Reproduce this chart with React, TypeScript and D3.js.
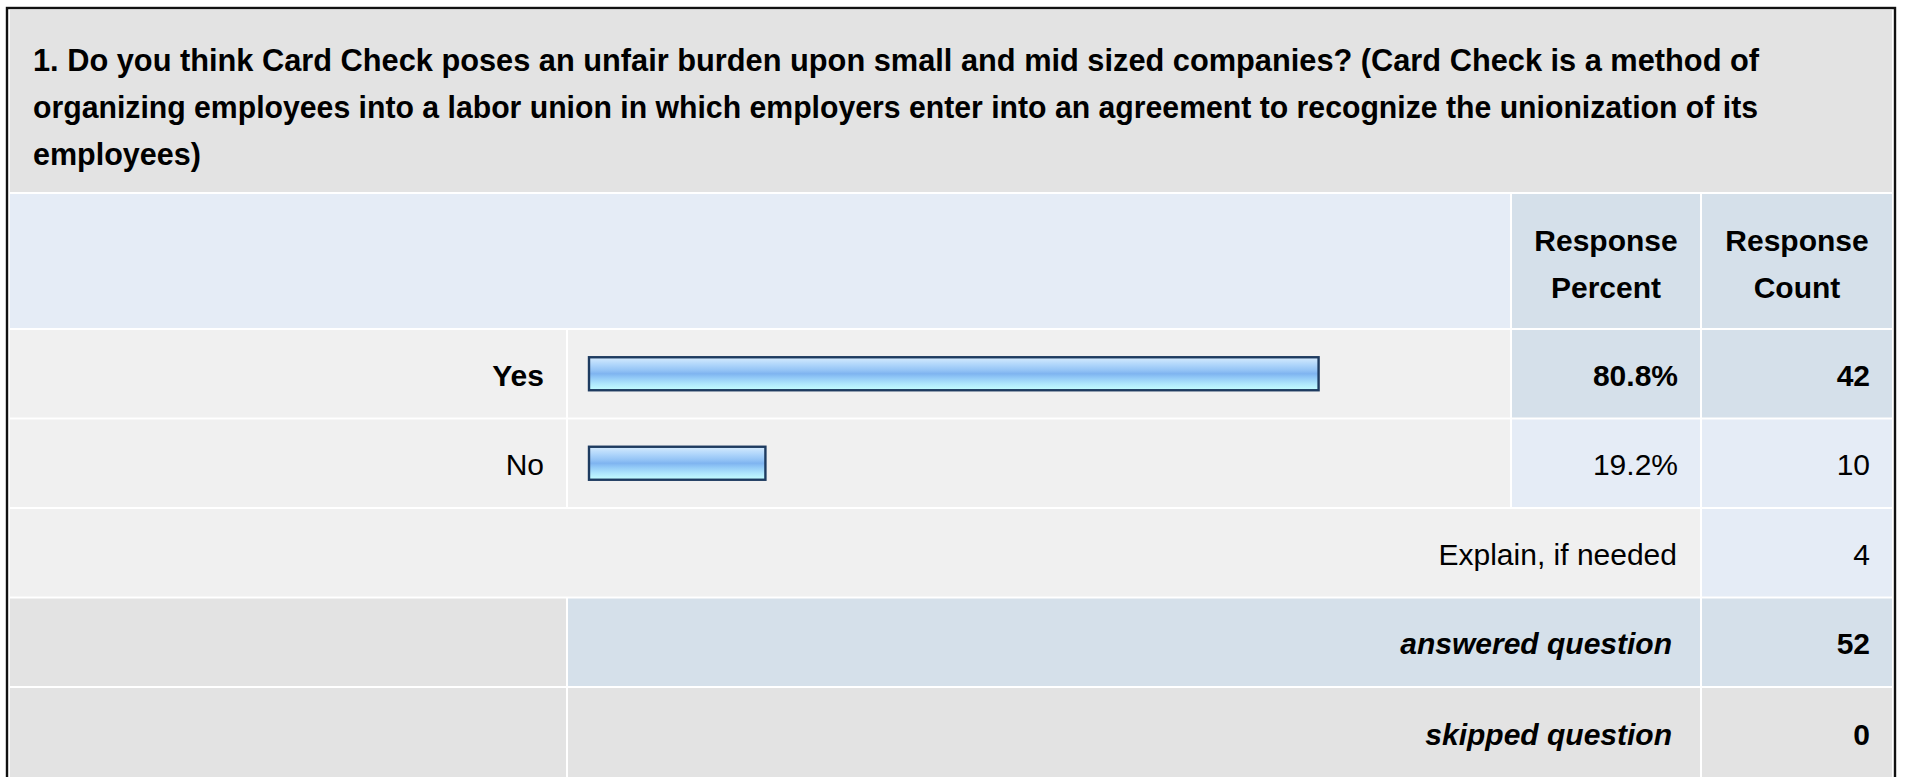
import React from "react";
import * as d3 from "d3";

const titleLines = [
  "1. Do you think Card Check poses an unfair burden upon small and mid sized companies? (Card Check is a method of",
  "organizing employees into a labor union in which employers enter into an agreement to recognize the unionization of its",
  "employees)",
];
const headerPercent = ["Response", "Percent"];
const headerCount = ["Response", "Count"];
const categories = ["Yes", "No"];
const percents = [80.8, 19.2];
const counts = [42, 10];
const boldRow = [true, false];
const explainLabel = "Explain, if needed";
const explainCount = 4;
const answeredLabel = "answered question";
const answeredCount = 52;
const skippedLabel = "skipped question";
const skippedCount = 0;

const W = 1909;
const H = 777;
const FONT = "'Liberation Sans', Arial, Helvetica, sans-serif";
const FS = 30;

const L = 10; // inner left
const R = 1892; // inner right
const labelRight = 566;
const barLeft = 568;
const barRight = 1510;
const pctLeft = 1512;
const pctRight = 1700;
const cntLeft = 1702;

const C_TITLE = "#e3e3e3";
const C_HEAD = "#e5ecf6";
const C_HEAD2 = "#d5e0ea";
const C_ROW = "#f0f0f0";

export default function App() {
  const rowH = 87.5;
  const gap = 2;
  const firstRowTop = 330;
  const rowTop = (i: number) => firstRowTop + i * (rowH + gap);
  const dy = 12;

  const x = d3.scaleLinear().domain([0, 100]).range([0, 898]);
  const barH = 35;
  const bx = 588;

  const rows: React.ReactNode[] = [];

  categories.forEach((c, i) => {
    const top = rowTop(i);
    const mid = top + rowH / 2;
    const weight = boldRow[i] ? "bold" : "normal";
    const cellPct = boldRow[i] ? C_HEAD2 : C_HEAD;
    rows.push(
      <g key={"r" + i}>
        <rect x={L} y={top} width={labelRight - L} height={rowH} fill={C_ROW} />
        <rect x={barLeft} y={top} width={barRight - barLeft} height={rowH} fill={C_ROW} />
        <rect x={pctLeft} y={top} width={pctRight - pctLeft} height={rowH} fill={cellPct} />
        <rect x={cntLeft} y={top} width={R - cntLeft} height={rowH} fill={cellPct} />
        <text x={544} y={mid + dy} textAnchor="end" fontWeight={weight}>{c}</text>
        <rect
          x={bx + 1}
          y={mid - barH / 2 + 1}
          width={x(percents[i]) + 4}
          height={barH - 2}
          fill="url(#barGrad)"
          stroke="#1e3b60"
          strokeWidth={2.4}
        />
        <text x={1678} y={mid + dy} textAnchor="end" fontWeight={weight}>{percents[i].toFixed(1)}%</text>
        <text x={1870} y={mid + dy} textAnchor="end" fontWeight={weight}>{counts[i]}</text>
      </g>
    );
  });

  const eTop = rowTop(2);
  const aTop = rowTop(3);
  const sTop = rowTop(4);
  const titleWidths = [1726, 1725, null];

  return (
    <svg
      width={W}
      height={H}
      style={{ position: "absolute", left: 0, top: 0, background: "#ffffff" }}
      fontFamily={FONT}
      fontSize={FS}
      fill="#000"
    >
      <defs>
        <linearGradient id="barGrad" x1="0" y1="0" x2="0" y2="1">
          <stop offset="0%" stopColor="#d6ebfd" />
          <stop offset="22%" stopColor="#b0d6fb" />
          <stop offset="40%" stopColor="#93c3f5" />
          <stop offset="50%" stopColor="#7fb4f0" />
          <stop offset="60%" stopColor="#8fc6f6" />
          <stop offset="80%" stopColor="#aee6fc" />
          <stop offset="100%" stopColor="#c4feff" />
        </linearGradient>
      </defs>
      <rect x={0} y={0} width={W} height={H} fill="#fff" />
      {/* outer border */}
      <rect x={7} y={8} width={1888} height={H + 20} fill="none" stroke="#111" strokeWidth={2.4} />

      {/* title */}
      <rect x={L} y={10} width={R - L} height={182} fill={C_TITLE} />
      {titleLines.map((t, i) => (
        <text
          key={i}
          x={33}
          y={71 + i * 47}
          fontWeight="bold"
          fontSize={30.5}
          {...(titleWidths[i] ? { textLength: titleWidths[i] as number, lengthAdjust: "spacingAndGlyphs" } : {})}
        >
          {t}
        </text>
      ))}

      {/* header */}
      <rect x={L} y={194} width={barRight - L} height={134} fill={C_HEAD} />
      <rect x={pctLeft} y={194} width={pctRight - pctLeft} height={134} fill={C_HEAD2} />
      <rect x={cntLeft} y={194} width={R - cntLeft} height={134} fill={C_HEAD2} />
      <text fontWeight="bold" textAnchor="middle">
        {headerPercent.map((t, i) => (
          <tspan key={i} x={(pctLeft + pctRight) / 2} y={251 + i * 47}>{t}</tspan>
        ))}
      </text>
      <text fontWeight="bold" textAnchor="middle">
        {headerCount.map((t, i) => (
          <tspan key={i} x={(cntLeft + R) / 2} y={251 + i * 47}>{t}</tspan>
        ))}
      </text>

      {rows}

      {/* explain */}
      <rect x={L} y={eTop} width={pctRight - L} height={rowH} fill={C_ROW} />
      <rect x={cntLeft} y={eTop} width={R - cntLeft} height={rowH} fill={C_HEAD} />
      <text x={1677} y={eTop + rowH / 2 + dy} textAnchor="end">{explainLabel}</text>
      <text x={1870} y={eTop + rowH / 2 + dy} textAnchor="end">{explainCount}</text>

      {/* answered */}
      <rect x={L} y={aTop} width={labelRight - L} height={rowH} fill={C_TITLE} />
      <rect x={barLeft} y={aTop} width={pctRight - barLeft} height={rowH} fill={C_HEAD2} />
      <rect x={cntLeft} y={aTop} width={R - cntLeft} height={rowH} fill={C_HEAD2} />
      <text x={1672} y={aTop + rowH / 2 + dy} textAnchor="end" fontWeight="bold" fontStyle="italic">{answeredLabel}</text>
      <text x={1870} y={aTop + rowH / 2 + dy} textAnchor="end" fontWeight="bold">{answeredCount}</text>

      {/* skipped */}
      <rect x={L} y={sTop} width={labelRight - L} height={rowH + 10} fill={C_TITLE} />
      <rect x={barLeft} y={sTop} width={pctRight - barLeft} height={rowH + 10} fill={C_TITLE} />
      <rect x={cntLeft} y={sTop} width={R - cntLeft} height={rowH + 10} fill={C_TITLE} />
      <text x={1672} y={sTop + rowH / 2 + dy + 1} textAnchor="end" fontWeight="bold" fontStyle="italic">{skippedLabel}</text>
      <text x={1870} y={sTop + rowH / 2 + dy + 1} textAnchor="end" fontWeight="bold">{skippedCount}</text>
    </svg>
  );
}
